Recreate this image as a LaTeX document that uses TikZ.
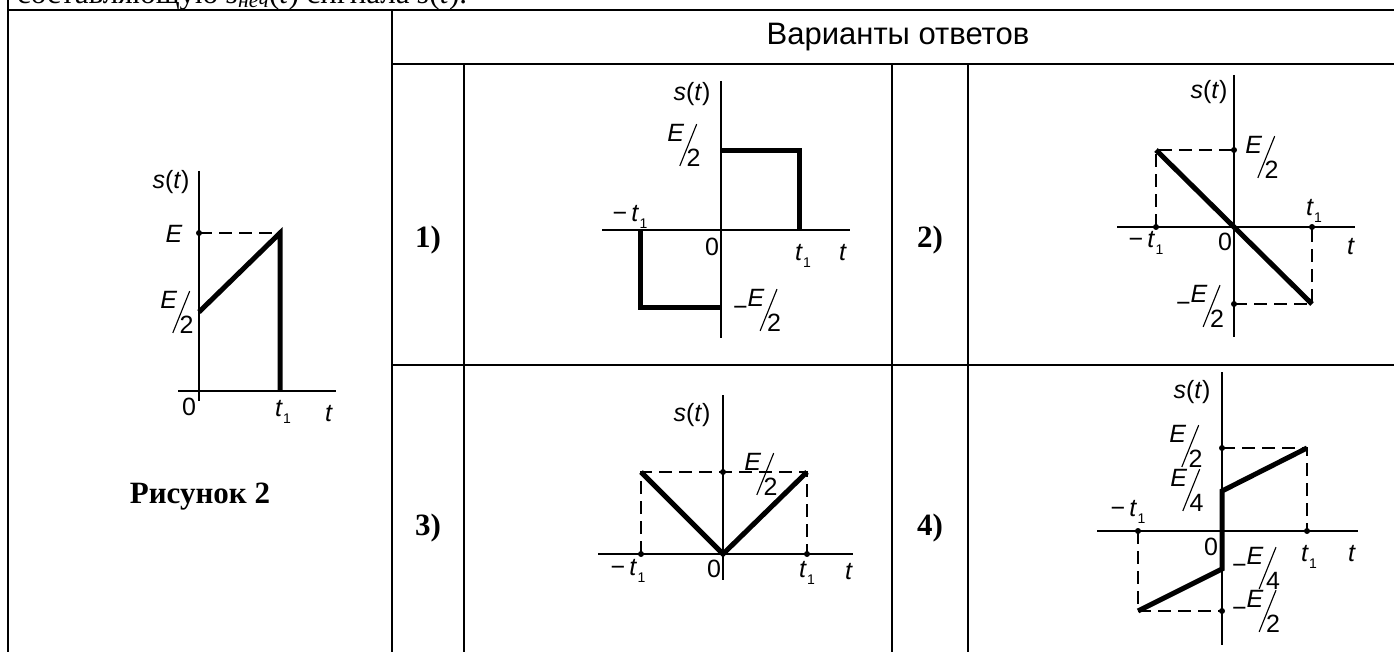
\documentclass[tikz,border=0pt]{standalone}
\usepackage{fontspec}
\setmainfont{Liberation Serif}
\setsansfont{Liberation Sans}
\usepackage{graphicx}
\newcommand{\slfr}[2]{\raisebox{0.5em}{\textit{#1}}\kern-0.2em\raisebox{-0.5em}{\rotatebox{68}{\rule{1.8em}{0.045em}}}\kern-0.42em\raisebox{-0.5em}{#2}}
\newcommand{\tone}{\textit{t}\kern0.01em\raisebox{-0.3em}{\fontsize{14}{14}\selectfont 1}}
\newcommand{\mns}{\char"2212}
\newcommand{\mnsh}{\raisebox{0.12em}{\char"2212}}
\begin{document}
\begin{tikzpicture}[x=1pt,y=-1pt,
  tbl/.style={line width=2pt},
  ax/.style={line width=1.2pt},
  sig/.style={line width=5pt, line join=miter, line cap=butt},
  dsh/.style={line width=1.1pt, dash pattern=on 13pt off 7pt},
  lbl/.style={inner sep=0, font=\fontsize{25}{27}\selectfont\sffamily},
  dotc/.style={circle, fill, inner sep=0, minimum size=6pt},
  num/.style={inner sep=0, font=\fontsize{31}{34}\selectfont\bfseries},
  txt/.style={inner sep=0, font=\fontsize{31}{34}\selectfont}]
\useasboundingbox (0,0) rectangle (1394,652);
% top text (cut off by the frame)
\node[txt, anchor=base west] (toptext) at (17,4) {составляющую \textit{s}\textsubscript{\textit{неч}}(\textit{t}) сигнала \textit{s}(\textit{t}).};
% table
\draw[tbl] (8,0) -- (8,652);
\draw[tbl] (8,10) -- (1394,10);
\draw[tbl] (392,10) -- (392,652);
\draw[tbl] (392,64) -- (1394,64);
\draw[tbl] (392,365) -- (1394,365);
\draw[tbl] (464,64) -- (464,652);
\draw[tbl] (892,64) -- (892,652);
\draw[tbl] (968,64) -- (968,652);
\node[txt, font=\fontsize{31}{34}\selectfont\sffamily] (hdr) at (898,37) {Варианты ответов};
\node[num] (fig) at (200,497) {Рисунок 2};
\node[num] (n1) at (428,240) {1)};
\node[num] (n2) at (930,240) {2)};
\node[num] (n3) at (428,528) {3)};
\node[num] (n4) at (930,528) {4)};
% ---------- Figure 2 ----------
\draw[ax] (199,171) -- (199,401);
\draw[ax] (178,391) -- (336,391);
\draw[dsh] (199,233) -- (280,233);
\node[dotc] (f2d) at (199,233) {};
\draw[sig] (199,312) -- (280,233) -- (280,391);
\node[lbl] (f2s) at (171,182) {\textit{s}(\textit{t})};
\node[lbl] (f2E) at (174,234) {\textit{E}};
\node[lbl] (f2E2) at (177,312) {\slfr{E}{2}};
\node[lbl] (f20) at (189,407) {0};
\node[lbl] (f2t1) at (283,412) {\tone};
\node[lbl] (f2t) at (329,414) {\textit{t}};
% ---------- Plot 1 ----------
\draw[ax] (721,81) -- (721,338);
\draw[ax] (602,230) -- (850,230);
\draw[sig] (721,151) -- (799,151) -- (799,230);
\draw[sig] (640,230) -- (640,307) -- (721,307);
\node[lbl] (p1s) at (692,94) {\textit{s}(\textit{t})};
\node[lbl] (p1E) at (684,145) {\slfr{E}{2}};
\node[lbl] (p1mt) at (630,217) {\mns\,\tone};
\node[lbl] (p10) at (712,247) {0};
\node[lbl] (p1t1) at (803,256) {\tone};
\node[lbl] (p1t) at (843,253) {\textit{t}};
\node[lbl] (p1mE) at (757,310) {\mnsh\slfr{E}{2}};
% ---------- Plot 2 ----------
\draw[ax] (1234,75) -- (1234,337);
\draw[ax] (1117,227) -- (1355,227);
\draw[dsh] (1156,227) -- (1156,150) -- (1234,150);
\draw[dsh] (1234,304) -- (1312,304) -- (1312,227);
\draw[sig] (1156,150) -- (1312,304);
\node[dotc] (p2a) at (1234,150) {};
\node[dotc] (p2b) at (1156,227) {};
\node[dotc] (p2c) at (1312,227) {};
\node[dotc] (p2d) at (1234,304) {};
\node[lbl] (p2s) at (1209,92) {\textit{s}(\textit{t})};
\node[lbl] (p2E) at (1262,157) {\slfr{E}{2}};
\node[lbl] (p2mt) at (1146,243) {\mns\,\tone};
\node[lbl] (p20) at (1225,242) {0};
\node[lbl] (p2t1) at (1314,211) {\tone};
\node[lbl] (p2t) at (1351,247) {\textit{t}};
\node[lbl] (p2mE) at (1200,306) {\mnsh\slfr{E}{2}};
% ---------- Plot 3 ----------
\draw[ax] (723,395) -- (723,580);
\draw[ax] (598,554) -- (853,554);
\draw[dsh] (641,554) -- (641,472) -- (807,472) -- (807,554);
\draw[sig] (641,472) -- (723,554) -- (807,472);
\node[dotc] (p3a) at (723,472) {};
\node[dotc] (p3b) at (641,554) {};
\node[dotc] (p3c) at (807,554) {};
\node[lbl] (p3s) at (692,415) {\textit{s}(\textit{t})};
\node[lbl] (p3E) at (761,474) {\slfr{E}{2}};
\node[lbl] (p3mt) at (628,571) {\mns\,\tone};
\node[lbl] (p30) at (714,569) {0};
\node[lbl] (p3t1) at (807,573) {\tone};
\node[lbl] (p3t) at (849,572) {\textit{t}};
% ---------- Plot 4 ----------
\draw[ax] (1222,372) -- (1222,645);
\draw[ax] (1097,531) -- (1358,531);
\draw[dsh] (1222,448) -- (1307,448) -- (1307,531);
\draw[dsh] (1138,531) -- (1138,611) -- (1222,611);
\draw[sig] (1138,611) -- (1222,569) -- (1222,491) -- (1307,448);
\node[dotc] (p4a) at (1222,448) {};
\node[dotc] (p4b) at (1138,531) {};
\node[dotc] (p4c) at (1307,531) {};
\node[dotc] (p4d) at (1222,611) {};
\node[lbl] (p4s) at (1192,392) {\textit{s}(\textit{t})};
\node[lbl] (p4E2) at (1186,446) {\slfr{E}{2}};
\node[lbl] (p4E4) at (1187,490) {\slfr{E}{4}};
\node[lbl] (p4mt) at (1128,512) {\mns\,\tone};
\node[lbl] (p40) at (1211,547) {0};
\node[lbl] (p4t1) at (1309,557) {\tone};
\node[lbl] (p4t) at (1352,554) {\textit{t}};
\node[lbl] (p4mE4) at (1256,568) {\mnsh\slfr{E}{4}};
\node[lbl] (p4mE2) at (1256,611) {\mnsh\slfr{E}{2}};
\end{tikzpicture}
\end{document}
